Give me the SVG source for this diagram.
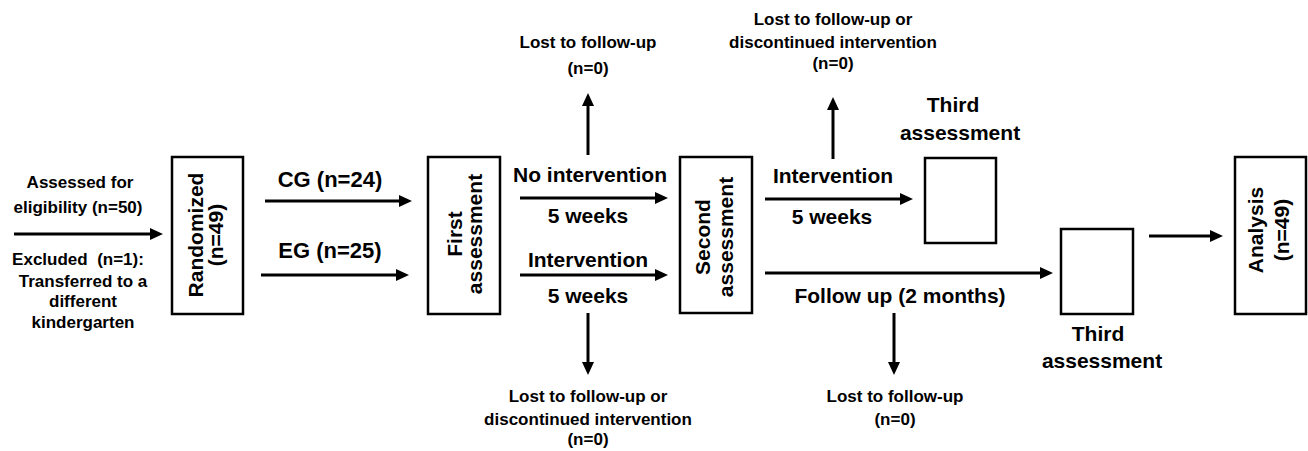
<svg xmlns="http://www.w3.org/2000/svg" width="1308" height="451" viewBox="0 0 1308 451">
<style>
text{font-family:"Liberation Sans",Arial,sans-serif;font-weight:bold;fill:#000;text-anchor:middle}
.s{font-size:17px}
.m{font-size:21px}
.l{font-size:22px}
.box{fill:#fff;stroke:#000;stroke-width:2.5}
.c{fill:none;stroke:#000;stroke-width:3;marker-end:url(#ah)}
</style>
<defs>
<marker id="ah" markerUnits="userSpaceOnUse" markerWidth="14" markerHeight="12" refX="3" refY="6" orient="auto">
<path d="M0,0 L13,6 L0,12 Z" fill="#000"/>
</marker>
</defs>
<rect width="1308" height="451" fill="#fff"/>
<g id="connectors">
<path class="c" d="M14,234 H153"/>
<path class="c" d="M265,201 H402"/>
<path class="c" d="M261,275 H399"/>
<path class="c" d="M520,198 H658"/>
<path class="c" d="M520,275 H658"/>
<path class="c" d="M588,155 V103"/>
<path class="c" d="M588,313 V365"/>
<path class="c" d="M765,199 H903"/>
<path class="c" d="M833,159 V107"/>
<path class="c" d="M765,273 H1043"/>
<path class="c" d="M894,313 V365"/>
<path class="c" d="M1149,236 H1213"/>
</g>
<g id="labels">
<text class="s" x="80" y="188">Assessed for</text>
<text class="s" x="78" y="213">eligibility (n=50)</text>
<text class="s" x="78" y="265" xml:space="preserve">Excluded  (n=1):</text>
<text class="s" x="83" y="287">Transferred to a</text>
<text class="s" x="83" y="307">different</text>
<text class="s" x="83" y="328">kindergarten</text>
<text class="l" x="330" y="187">CG (n=24)</text>
<text class="l" x="330" y="258">EG (n=25)</text>
<text class="m" x="590" y="182">No intervention</text>
<text class="m" x="588" y="223">5 weeks</text>
<text class="m" x="588" y="267">Intervention</text>
<text class="m" x="588" y="303">5 weeks</text>
<text class="s" x="588" y="48">Lost to follow-up</text>
<text class="s" x="588" y="74">(n=0)</text>
<text class="s" x="588" y="402">Lost to follow-up or</text>
<text class="s" x="588" y="425">discontinued intervention</text>
<text class="s" x="588" y="445">(n=0)</text>
<text class="s" x="833" y="25">Lost to follow-up or</text>
<text class="s" x="833" y="48">discontinued intervention</text>
<text class="s" x="833" y="69">(n=0)</text>
<text class="m" x="833" y="183">Intervention</text>
<text class="m" x="832" y="224">5 weeks</text>
<text class="m" x="900" y="303">Follow up (2 months)</text>
<text class="s" x="895" y="402">Lost to follow-up</text>
<text class="s" x="895" y="425">(n=0)</text>
</g>
<g id="randomized">
<rect class="box" x="172" y="157" width="71" height="157"/>
<text class="m" transform="translate(203,235) rotate(-90)">Randomized</text>
<text class="m" transform="translate(223,235) rotate(-90)">(n=49)</text>
</g>
<g id="first-assessment">
<rect class="box" x="428" y="157" width="72" height="157"/>
<text class="m" transform="translate(462,234) rotate(-90)">First</text>
<text class="m" transform="translate(482,234) rotate(-90)">assessment</text>
</g>
<g id="second-assessment">
<rect class="box" x="680" y="157" width="72" height="156"/>
<text class="m" transform="translate(710,237) rotate(-90)">Second</text>
<text class="m" transform="translate(733,237) rotate(-90)">assessment</text>
</g>
<g id="third-assessment-cg">
<rect class="box" x="925" y="158" width="71" height="85"/>
<text class="m" x="953" y="112">Third</text>
<text class="m" x="960" y="140">assessment</text>
</g>
<g id="third-assessment-eg">
<rect class="box" x="1061" y="229" width="72" height="85"/>
<text class="m" x="1098" y="341">Third</text>
<text class="m" x="1102" y="368">assessment</text>
</g>
<g id="analysis">
<rect class="box" x="1235" y="157" width="71" height="157"/>
<text class="m" transform="translate(1263,230) rotate(-90)">Analysis</text>
<text class="m" transform="translate(1289,230) rotate(-90)">(n=49)</text>
</g>
</svg>
